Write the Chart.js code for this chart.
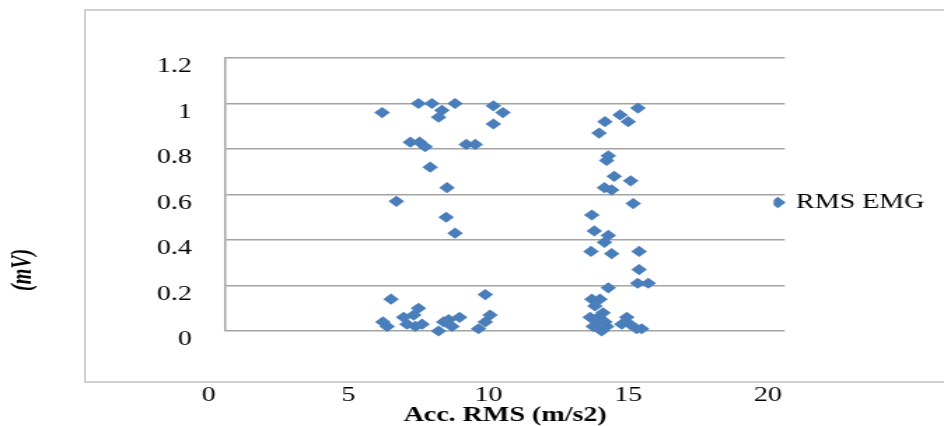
<!DOCTYPE html>
<html>
<head>
<meta charset="utf-8">
<title>RMS EMG vs Acc. RMS</title>
<script src="https://cdn.jsdelivr.net/npm/chart.js@4.4.1/dist/chart.umd.min.js"></script>
<style>
  html, body { margin: 0; padding: 0; background: #fff; }
  body { width: 944px; height: 426px; overflow: hidden; position: relative; }
  /* outer chart frame */
  #frame { position: absolute; left: 84px; top: 9px; width: 900px; height: 370px; border: 2px solid #cfcfcf; }
  /* the source picture is stretched sideways, so the chart is too */
  #wrap { position: absolute; left: 0; top: 0; width: 680px; height: 426px; transform: scaleX(1.4006); transform-origin: 0 0; }
</style>
</head>
<body>
<div id="frame"></div>
<div id="wrap"><canvas id="emgChart" width="680" height="426"></canvas></div>
<script>
/* ===== DATA ===== */
const accRms = [
  5.60, 6.90, 7.38, 7.74, 7.62, 8.21, 9.58, 9.92, 9.58, 6.61,
  6.94, 7.14, 8.61, 8.93, 7.32, 7.92, 6.11, 7.89, 8.21,
  5.92, 9.29, 5.63, 5.78, 6.37, 6.90, 6.73, 6.49, 6.79, 7.03,
  7.62, 7.80, 8.10, 8.37, 7.98, 9.46, 9.29, 9.05,
  14.75, 14.11, 14.40, 13.57, 13.36, 13.69, 13.63, 13.90, 14.49, 13.55,
  13.81, 14.58, 13.10, 13.19, 13.69, 13.55, 13.07, 13.81, 14.79, 14.79,
  14.74, 15.12, 13.69,
  13.10, 13.39, 13.21, 13.04, 13.33, 13.57, 13.15, 13.45, 13.63, 13.29,
  13.50, 14.35, 14.17, 14.46, 14.70, 14.88
];
const rmsEmg = [
  0.96, 1.00, 1.00, 0.97, 0.94, 1.00, 0.99, 0.96, 0.91, 0.83,
  0.83, 0.81, 0.82, 0.82, 0.72, 0.63, 0.57, 0.50, 0.43,
  0.14, 0.16, 0.04, 0.02, 0.06, 0.10, 0.07, 0.03, 0.02, 0.03,
  0.00, 0.04, 0.02, 0.06, 0.05, 0.07, 0.04, 0.01,
  0.98, 0.95, 0.92, 0.92, 0.87, 0.77, 0.75, 0.68, 0.66, 0.63,
  0.62, 0.56, 0.51, 0.44, 0.42, 0.39, 0.35, 0.34, 0.35, 0.27,
  0.21, 0.21, 0.19,
  0.14, 0.14, 0.11, 0.06, 0.06, 0.04, 0.02, 0.00, 0.02, 0.04,
  0.08, 0.06, 0.03, 0.03, 0.01, 0.01
];
const xTicks = [0, 5, 10, 15, 20];
const yTicks = [0, 0.2, 0.4, 0.6, 0.8, 1, 1.2];

const serif = "'Liberation Serif', 'Times New Roman', serif";
const blue = "#4a7ebb";

// legend marker sits a little inside the plot in the original
const legendShift = {
  id: "legendShift",
  afterLayout(chart) {
    chart.legend.left -= 8;
    chart.legend.right -= 8;
  }
};

/* ===== CHART ===== */
new Chart(document.getElementById("emgChart"), {
  type: "scatter",
  data: {
    datasets: [{
      label: "RMS EMG",
      data: accRms.map((x, i) => ({ x: x, y: rmsEmg[i] })),
      pointStyle: "rectRot",
      pointRadius: 5.6,
      pointHoverRadius: 5.6,
      backgroundColor: blue,
      borderColor: blue,
      borderWidth: 0,
      clip: false
    }]
  },
  plugins: [legendShift],
  options: {
    responsive: false,
    animation: false,
    layout: { padding: { top: 58, right: 2, bottom: 0, left: 0 } },
    plugins: {
      tooltip: { enabled: false },
      legend: {
        position: "right",
        fullSize: false,
        title: { display: true, text: "", padding: 3, font: { size: 10, lineHeight: 1 } },
        labels: {
          usePointStyle: true,
          pointStyle: "rectRot",
          boxWidth: 6,
          boxHeight: 8,
          padding: 0,
          color: "#000",
          font: { family: serif, size: 20 }
        }
      }
    },
    scales: {
      x: {
        type: "linear",
        min: 0,
        max: 20,
        afterBuildTicks: s => { s.ticks = xTicks.map(v => ({ value: v })); },
        afterFit: s => { s.height = 95; },
        grid: { display: false },
        border: { display: false },
        ticks: {
          padding: 45,
          labelOffset: -12,
          color: "#000",
          font: { family: serif, size: 20 }
        },
        title: {
          display: true,
          text: "Acc. RMS (m/s2)",
          color: "#000",
          padding: { top: 0, bottom: -2 },
          font: { family: serif, size: 20, weight: "bold" }
        }
      },
      y: {
        min: 0,
        max: 1.2,
        afterBuildTicks: s => { s.ticks = yTicks.map(v => ({ value: v })); },
        afterFit: s => { s.width = 161; },
        grid: { color: "#a3a3a3", lineWidth: 1.5, drawTicks: false },
        border: { display: true, color: "#a3a3a3", width: 1.5 },
        ticks: {
          padding: 24,
          labelOffset: 9,
          color: "#000",
          font: { family: serif, size: 20 },
          callback: v => String(+v.toFixed(1))
        },
        title: {
          display: true,
          text: "        (mV)",
          align: "start",
          color: "#000",
          padding: { top: 5, bottom: 0 },
          font: { family: serif, size: 20, style: "italic", weight: "bold" }
        }
      }
    }
  }
});
</script>
</body>
</html>
